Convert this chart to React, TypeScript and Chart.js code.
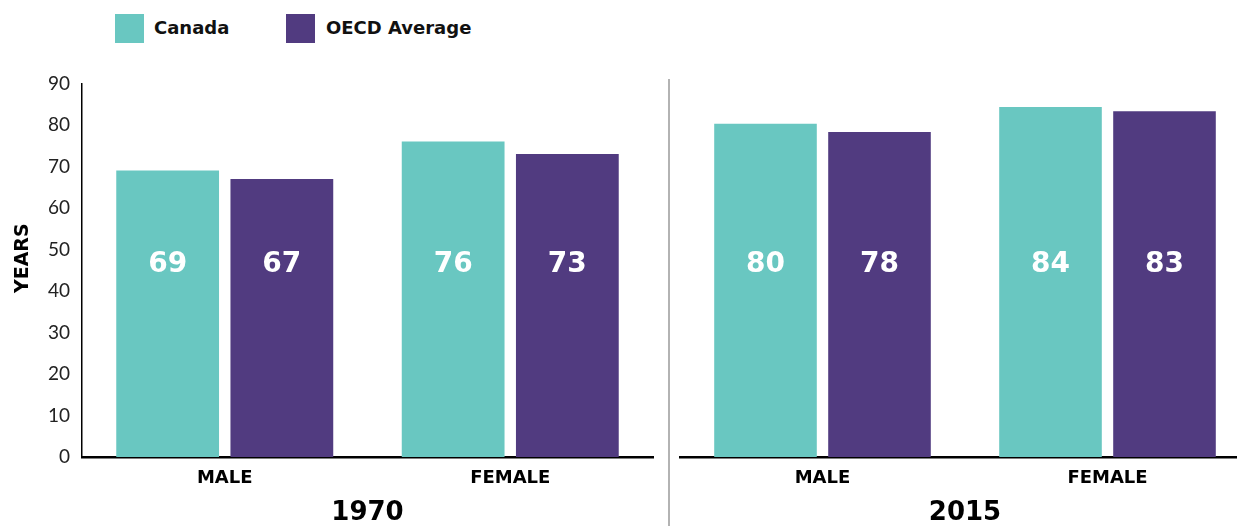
import React, { useEffect, useRef } from "react";
import { Chart, registerables } from "chart.js";

Chart.register(...registerables);

const categories = ["MALE", "FEMALE"];
const canada1970 = [69, 76];
const oecd1970 = [67, 73];
const canada2015 = [80, 84];
const oecd2015 = [78, 83];
const yTicks = [0, 10, 20, 30, 40, 50, 60, 70, 80, 90];
const seriesNames = ["Canada", "OECD Average"];
const panelTitles = ["1970", "2015"];
const yTitle = "YEARS";

const TEAL = "#69c7c1";
const PURPLE = "#513b80";
const FONT = "Lato, 'Open Sans', sans-serif";
const BOLD = "'DejaVu Sans', sans-serif";

const valueLabels = {
  id: "valueLabels",
  afterDatasetsDraw(chart: any) {
    const { ctx, chartArea } = chart;
    const y = chartArea.top + (chartArea.bottom - chartArea.top) * 0.486;
    ctx.save();
    ctx.fillStyle = "#ffffff";
    ctx.font = `bold 28px ${BOLD}`;
    ctx.textAlign = "center";
    ctx.textBaseline = "middle";
    chart.data.datasets.forEach((ds: any, i: number) => {
      const meta = chart.getDatasetMeta(i);
      meta.data.forEach((bar: any, j: number) => {
        ctx.fillText(String(ds.data[j]), bar.x, y);
      });
    });
    ctx.restore();
  },
};

const yTitlePlugin = {
  id: "yTitlePlugin",
  afterDraw(chart: any) {
    if (!chart.options.scales.y.display) return;
    const { ctx, chartArea } = chart;
    const cy = (chartArea.top + chartArea.bottom) / 2 - 12;
    ctx.save();
    ctx.translate(23, cy);
    ctx.rotate(-Math.PI / 2);
    ctx.fillStyle = "#000";
    ctx.font = `bold 19px ${BOLD}`;
    ctx.textAlign = "center";
    ctx.textBaseline = "middle";
    ctx.fillText(yTitle, 0, 0);
    ctx.restore();
  },
};

function makeConfig(canada: number[], oecd: number[], title: string, showY: boolean): any {
  return {
    type: "bar",
    data: {
      labels: categories,
      datasets: [
        { label: seriesNames[0], data: canada, backgroundColor: TEAL, barPercentage: 0.9, categoryPercentage: 0.8 },
        { label: seriesNames[1], data: oecd, backgroundColor: PURPLE, barPercentage: 0.9, categoryPercentage: 0.8 },
      ],
    },
    options: {
      responsive: false,
      animation: false,
      maintainAspectRatio: false,
      layout: { padding: { top: 22, right: showY ? 7 : 0, left: showY ? 0 : 10, bottom: 0 } },
      plugins: { legend: { display: false }, tooltip: { enabled: false } },
      scales: {
        x: {
          grid: { display: false, drawTicks: false },
          border: { display: true, color: "#000", width: 2.5 },
          ticks: { color: "#000", font: { family: BOLD, size: 18, weight: "bold" }, padding: 11 },
          title: {
            display: true,
            text: title,
            color: "#000",
            font: { family: BOLD, size: 26, weight: "bold", lineHeight: 1.0 },
            padding: { top: 8, bottom: 0 },
          },
          afterFit: (s: any) => {
            s.height = 69;
          },
        },
        y: {
          display: showY,
          min: 0,
          max: 90,
          afterBuildTicks: (s: any) => {
            s.ticks = yTicks.map((v) => ({ value: v }));
          },
          grid: { display: false, drawTicks: false },
          border: { display: true, color: "#000", width: 1.5 },
          ticks: { color: "#222", font: { family: FONT, size: 19 }, padding: 12 },
          title: { display: false },
          afterFit: (s: any) => {
            s.width = showY ? 82 : 0;
          },
        },
      },
    },
    plugins: [valueLabels, yTitlePlugin],
  };
}

function Panel({ canada, oecd, title, showY, left, width }: any) {
  const ref = useRef<HTMLCanvasElement>(null);
  useEffect(() => {
    const chart = new Chart(ref.current!, makeConfig(canada, oecd, title, showY));
    return () => chart.destroy();
  }, []);
  return (
    <canvas
      ref={ref}
      width={width}
      height={466}
      style={{ position: "absolute", left, top: 60, width, height: 466 }}
    />
  );
}

export default function App() {
  const legendText: React.CSSProperties = {
    position: "absolute",
    top: 14,
    fontFamily: BOLD,
    fontWeight: 700,
    fontSize: 18,
    lineHeight: "28px",
    color: "#111",
  };
  return (
    <div
      style={{
        position: "fixed",
        left: 0,
        top: 0,
        width: 1237,
        height: 526,
        overflow: "hidden",
        background: "#fff",
      }}
    >
      <div style={{ position: "absolute", left: 115, top: 14, width: 29, height: 29, background: TEAL }} />
      <div style={{ ...legendText, left: 154 }}>{seriesNames[0]}</div>
      <div style={{ position: "absolute", left: 286, top: 14, width: 29, height: 29, background: PURPLE }} />
      <div style={{ ...legendText, left: 326 }}>{seriesNames[1]}</div>
      <Panel canada={canada1970} oecd={oecd1970} title={panelTitles[0]} showY={true} left={0} width={660} />
      <div style={{ position: "absolute", left: 668, top: 79, width: 2, height: 447, background: "#b3b3b3" }} />
      <Panel canada={canada2015} oecd={oecd2015} title={panelTitles[1]} showY={false} left={670} width={580} />
    </div>
  );
}
